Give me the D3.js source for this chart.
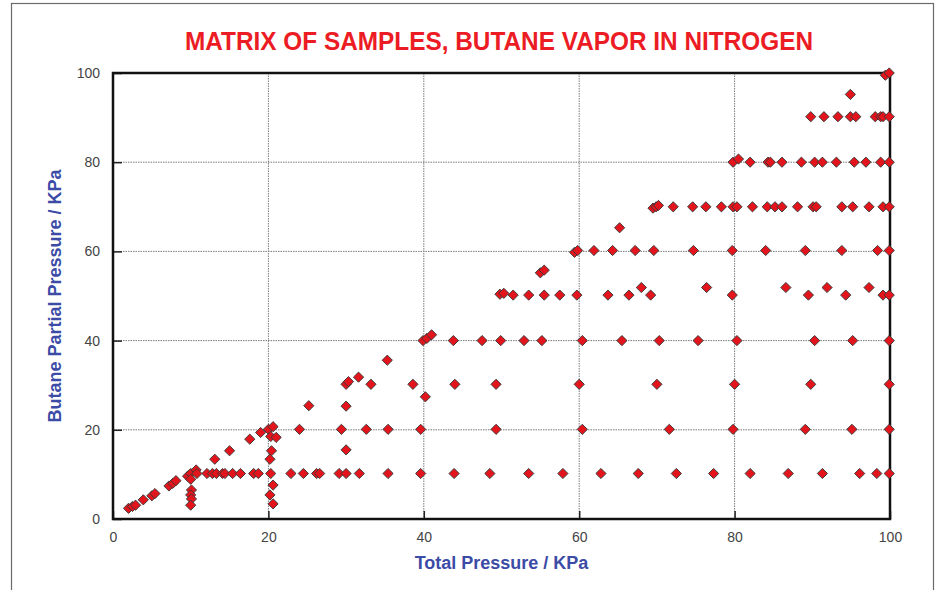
<!DOCTYPE html>
<html>
<head>
<meta charset="utf-8">
<script src="https://cdn.jsdelivr.net/npm/d3@7"></script>
<style>
  body { margin: 0; background: #fff; }
  svg { display: block; }
</style>
</head>
<body>
<svg width="936" height="590"></svg>
<script>
// sample matrix: total pressure (x) and butane partial pressure (y), KPa
var totalP = [
  2.0, 2.5, 2.9, 3.9, 5.0, 5.4, 7.2, 7.7, 8.1, 9.6, 10.0, 10.7,
  10.0, 10.1, 10.0, 10.1, 10.0,
  10.8, 12.1, 12.8, 13.3, 14.1, 14.4, 15.4, 16.4, 18.1, 18.7, 20.3, 22.9, 24.5, 26.2, 26.6, 29.1, 30.0, 31.7,
  35.4, 39.6, 43.9, 48.5, 53.5, 57.9, 62.8, 67.6, 72.5, 77.3, 82.0, 86.9, 91.3, 96.1, 98.3, 99.9,
  13.1, 15.0, 17.6, 19.0, 20.0, 20.6,
  20.3, 21.0, 20.4, 20.2, 20.6, 20.2, 20.6,
  24.0, 29.4, 32.6, 35.4, 39.6, 49.3, 60.4, 71.6, 79.8, 89.1, 95.1, 99.9,
  25.2, 30.0, 30.0,
  30.0, 30.3, 31.6, 33.2, 38.6, 44.0, 49.3, 60.0, 70.0, 80.0, 89.8, 99.9,
  35.3, 40.2,
  39.9, 40.4, 41.0, 43.8, 47.5, 49.9, 52.9, 55.2, 60.4, 65.5, 70.3, 75.3, 80.3, 90.3, 95.2, 99.9,
  49.8, 50.3, 51.5, 53.5, 55.5, 57.5, 59.7, 63.7, 66.4, 69.2, 79.7, 89.5, 94.3, 99.1, 99.9,
  55.0, 55.5,
  68.0, 76.4, 86.6, 91.9, 97.3,
  59.4, 59.8, 61.9, 64.3, 67.2, 69.6, 74.7, 79.7, 84.0, 89.1, 93.8, 98.4, 99.9,
  65.2,
  69.5, 69.9, 70.2, 72.1, 74.6, 76.3, 78.3, 79.8, 80.3, 82.3, 84.2, 85.2, 86.1, 88.1, 90.1, 90.5, 93.8, 95.2, 97.3, 99.1, 99.9,
  79.8, 80.5, 82.0, 84.3, 84.6, 86.1, 88.6, 90.3, 91.3, 93.1, 95.4, 96.9, 98.8, 99.9,
  89.8, 91.5, 93.3, 94.9, 95.6, 98.1, 98.8, 99.1, 99.9,
  94.9, 99.4, 99.9
];
var butaneP = [
  2.4, 2.8, 3.1, 4.3, 5.2, 5.7, 7.4, 8.0, 8.6, 9.6, 10.2, 11.0,
  8.9, 6.5, 5.4, 4.5, 3.1,
  10.2, 10.2, 10.2, 10.2, 10.2, 10.2, 10.2, 10.2, 10.2, 10.2, 10.2, 10.2, 10.2, 10.2, 10.2, 10.2, 10.2, 10.2,
  10.2, 10.2, 10.2, 10.2, 10.2, 10.2, 10.2, 10.2, 10.2, 10.2, 10.2, 10.2, 10.2, 10.2, 10.2, 10.2,
  13.4, 15.3, 17.9, 19.4, 20.1, 20.7,
  18.5, 18.3, 15.3, 13.4, 7.6, 5.4, 3.4,
  20.1, 20.1, 20.1, 20.1, 20.1, 20.1, 20.1, 20.1, 20.1, 20.1, 20.1, 20.1,
  25.4, 25.3, 15.5,
  30.2, 30.8, 31.8, 30.2, 30.2, 30.2, 30.2, 30.2, 30.2, 30.2, 30.2, 30.2,
  35.6, 27.4,
  40.0, 40.5, 41.3, 40.0, 40.0, 40.0, 40.0, 40.0, 40.0, 40.0, 40.0, 40.0, 40.0, 40.0, 40.0, 40.0,
  50.4, 50.6, 50.2, 50.2, 50.2, 50.2, 50.2, 50.2, 50.2, 50.2, 50.2, 50.2, 50.2, 50.2, 50.2,
  55.2, 55.8,
  51.9, 51.9, 51.9, 51.9, 51.9,
  59.8, 60.2, 60.2, 60.2, 60.2, 60.2, 60.2, 60.2, 60.2, 60.2, 60.2, 60.2, 60.2,
  65.3,
  69.7, 70.0, 70.3, 70.0, 70.0, 70.0, 70.0, 70.0, 70.0, 70.0, 70.0, 70.0, 70.0, 70.0, 70.0, 70.0, 70.0, 70.0, 70.0, 70.0, 70.0,
  80.0, 80.7, 80.0, 80.0, 80.0, 80.0, 80.0, 80.0, 80.0, 80.0, 80.0, 80.0, 80.0, 80.0,
  90.2, 90.2, 90.2, 90.2, 90.2, 90.2, 90.2, 90.2, 90.2,
  95.2, 99.5, 100.0
];
var xTicks = [0, 20, 40, 60, 80, 100];
var yTicks = [0, 20, 40, 60, 80, 100];

var svg = d3.select("svg"),
    width = +svg.attr("width"),
    height = +svg.attr("height");

var plotL = 113, plotR = 890, plotT = 73, plotB = 519;

var x = d3.scaleLinear().domain([0, 100]).range([plotL, plotR]);
var y = d3.scaleLinear().domain([0, 100]).range([plotB, plotT]);

var samples = totalP.map(function (d, i) { return {p: d, b: butaneP[i]}; });

svg.append("rect")
    .attr("width", width).attr("height", height)
    .attr("fill", "#fff");

// outer frame
svg.append("rect")
    .attr("x", 11.5).attr("y", 3.5)
    .attr("width", 922).attr("height", 620)
    .attr("fill", "none")
    .attr("stroke", "#6a6a6a")
    .attr("stroke-width", 1.2);

// dotted grid
svg.append("g").selectAll("line")
    .data(xTicks.slice(1, -1))
    .enter().append("line")
    .attr("x1", function (d) { return x(d); })
    .attr("x2", function (d) { return x(d); })
    .attr("y1", plotT).attr("y2", plotB)
    .attr("stroke", "#7a7a7a")
    .attr("stroke-dasharray", "1.5,1")
    .attr("stroke-width", 1);

svg.append("g").selectAll("line")
    .data(yTicks.slice(1, -1))
    .enter().append("line")
    .attr("y1", function (d) { return y(d); })
    .attr("y2", function (d) { return y(d); })
    .attr("x1", plotL).attr("x2", plotR)
    .attr("stroke", "#7a7a7a")
    .attr("stroke-dasharray", "1.5,1")
    .attr("stroke-width", 1);

// axes
var xAxis = svg.append("g")
    .attr("transform", "translate(0," + plotB + ")")
    .call(d3.axisBottom(x).tickValues(xTicks).tickSizeInner(-8).tickSizeOuter(0).tickPadding(13));
var yAxis = svg.append("g")
    .attr("transform", "translate(" + plotL + ",0)")
    .call(d3.axisLeft(y).tickValues(yTicks).tickSizeInner(-9).tickSizeOuter(0).tickPadding(13));

[xAxis, yAxis].forEach(function (a) {
    a.select(".domain").remove();
    a.selectAll(".tick line").attr("stroke", "#222").attr("stroke-width", 1.5);
    a.selectAll(".tick text")
        .attr("fill", "#444")
        .style("font-family", "Arial, 'Liberation Sans', sans-serif")
        .style("font-size", "14px");
});

// plot box
svg.append("rect")
    .attr("x", plotL).attr("y", plotT)
    .attr("width", plotR - plotL).attr("height", plotB - plotT)
    .attr("fill", "none")
    .attr("stroke", "#111")
    .attr("stroke-width", 2.5);

// diamonds
var diamond = d3.symbol().type(d3.symbolSquare).size(52);
svg.append("g").selectAll("path")
    .data(samples)
    .enter().append("path")
    .attr("d", diamond)
    .attr("transform", function (d) { return "translate(" + x(d.p) + "," + y(d.b) + ") rotate(45)"; })
    .attr("fill", "#e3141b")
    .attr("stroke", "#3a3a3a")
    .attr("stroke-width", 0.9);

// titles
svg.append("text")
    .attr("x", 499).attr("y", 50)
    .attr("text-anchor", "middle")
    .attr("textLength", 628)
    .attr("lengthAdjust", "spacingAndGlyphs")
    .attr("fill", "#ec1c24")
    .style("font-family", "'Liberation Sans Narrow', 'Arial Narrow', Arial, sans-serif")
    .style("font-weight", "bold")
    .style("font-size", "26px")
    .text("MATRIX OF SAMPLES, BUTANE VAPOR IN NITROGEN");

svg.append("text")
    .attr("x", (plotL + plotR) / 2).attr("y", 569)
    .attr("text-anchor", "middle")
    .attr("fill", "#3b4ba6")
    .style("font-family", "Arial, 'Liberation Sans', sans-serif")
    .style("font-weight", "bold")
    .style("font-size", "18px")
    .text("Total Pressure / KPa");

svg.append("text")
    .attr("transform", "translate(61," + (plotT + plotB) / 2 + ") rotate(-90)")
    .attr("text-anchor", "middle")
    .attr("fill", "#3b4ba6")
    .style("font-family", "Arial, 'Liberation Sans', sans-serif")
    .style("font-weight", "bold")
    .style("font-size", "18px")
    .text("Butane Partial Pressure / KPa");
</script>
</body>
</html>
